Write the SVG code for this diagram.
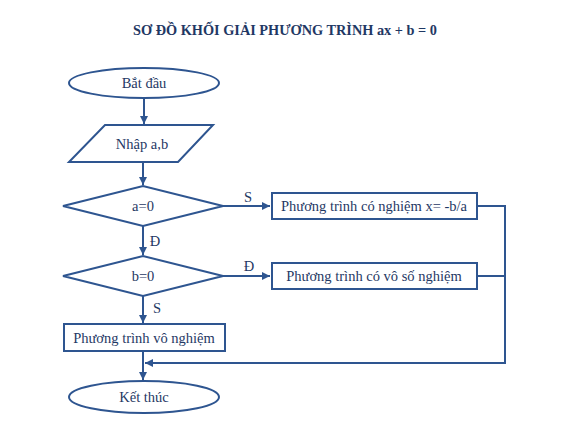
<svg xmlns="http://www.w3.org/2000/svg" width="570" height="443" viewBox="0 0 570 443">
<style>
.s{fill:#fff;stroke:#2e5590;stroke-width:2}
.l{fill:none;stroke:#2e5590;stroke-width:2}
.t{font-family:"Liberation Serif","Times New Roman","DejaVu Serif",serif;font-size:14.5px;fill:#1f3864;text-anchor:middle;dominant-baseline:central}
.ti{font-family:"Liberation Serif","Times New Roman","DejaVu Serif",serif;font-size:14.3px;font-weight:bold;fill:#1f3864;text-anchor:middle;dominant-baseline:central}
</style>
<defs>
<marker id="a" viewBox="0 0 10 10" refX="10" refY="5" markerWidth="4" markerHeight="4" orient="auto" markerUnits="strokeWidth">
<path d="M0,0L10,5L0,10z" fill="#2e5590"/>
</marker>
</defs>
<rect width="570" height="443" fill="#fff"/>
<text class="ti" x="285" y="30">SƠ ĐỒ KHỐI GIẢI PHƯƠNG TRÌNH ax + b = 0</text>
<g id="connectors">
<line class="l" x1="144" y1="98" x2="144" y2="124" marker-end="url(#a)"/>
<line class="l" x1="143" y1="162" x2="143" y2="185" marker-end="url(#a)"/>
<line class="l" x1="223" y1="206" x2="270" y2="206" marker-end="url(#a)"/>
<line class="l" x1="143" y1="226" x2="143" y2="255" marker-end="url(#a)"/>
<line class="l" x1="223" y1="276" x2="270" y2="276" marker-end="url(#a)"/>
<line class="l" x1="143" y1="296" x2="143" y2="323" marker-end="url(#a)"/>
<line class="l" x1="143" y1="351" x2="143" y2="380" marker-end="url(#a)"/>
<polyline class="l" points="477,206 505,206 505,363 145,363" marker-end="url(#a)"/>
<line class="l" x1="477" y1="276" x2="505" y2="276"/>
<text class="t" x="248" y="197">S</text>
<text class="t" x="155" y="241">Đ</text>
<text class="t" x="249" y="266">Đ</text>
<text class="t" x="157" y="308">S</text>
</g>
<g id="start">
<ellipse class="s" cx="144" cy="83" rx="75" ry="15"/>
<text class="t" x="144" y="83">Bắt đầu</text>
</g>
<g id="input">
<polygon class="s" points="105,125 213,125 178,162 69,162"/>
<text class="t" x="142" y="144">Nhập a,b</text>
</g>
<g id="cond-a">
<polygon class="s" points="63,206 143,186 223,206 143,226"/>
<text class="t" x="143" y="206">a=0</text>
</g>
<g id="cond-b">
<polygon class="s" points="63,276 143,256 223,276 143,296"/>
<text class="t" x="143" y="276">b=0</text>
</g>
<g id="one-solution">
<rect class="s" x="272" y="193" width="205" height="26"/>
<text class="t" x="374" y="206">Phương trình có nghiệm x= -b/a</text>
</g>
<g id="infinite">
<rect class="s" x="272" y="263" width="205" height="26"/>
<text class="t" x="374" y="276">Phương trình có vô số nghiệm</text>
</g>
<g id="no-solution">
<rect class="s" x="64" y="324" width="161" height="27"/>
<text class="t" x="144" y="338">Phương trình vô nghiệm</text>
</g>
<g id="end">
<ellipse class="s" cx="144" cy="397" rx="75" ry="16"/>
<text class="t" x="144" y="397">Kết thúc</text>
</g>
</svg>
